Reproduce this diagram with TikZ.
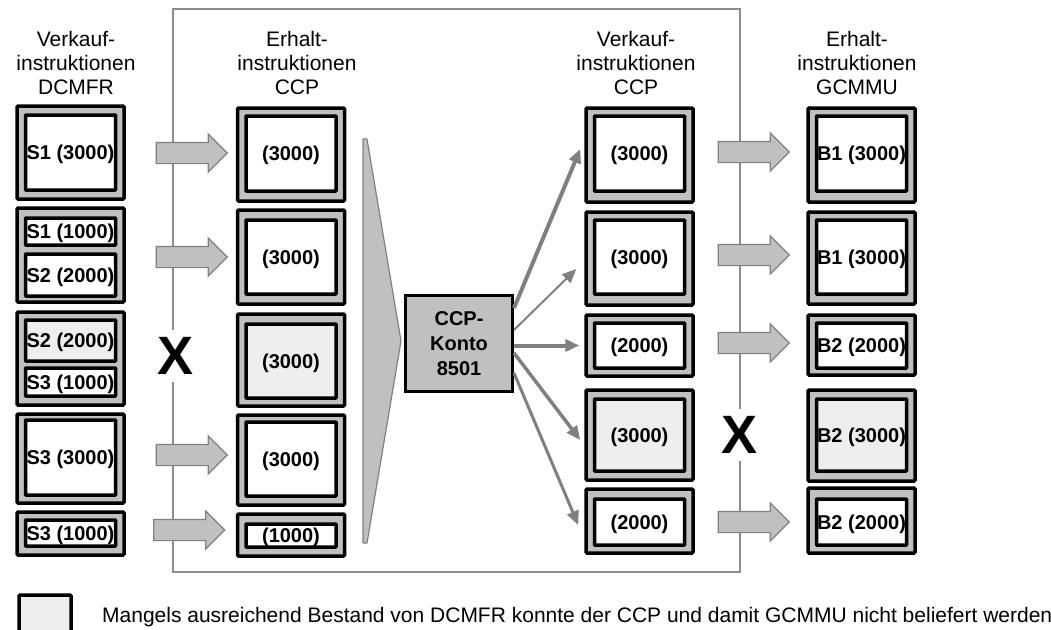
\documentclass[tikz,border=0pt]{standalone}
\usepackage{fontspec}
\setmainfont{Liberation Sans}
\usetikzlibrary{shapes.arrows,arrows.meta,calc}
\definecolor{boxgray}{HTML}{C0C0C0}
\definecolor{lightfill}{HTML}{EEEEEE}
\definecolor{linegray}{HTML}{808080}

\begin{document}
\begin{tikzpicture}[x=1pt,y=-1pt]
    \tikzstyle{outer}=[draw=black,line width=3.5pt,fill=boxgray,rounded corners=1pt,minimum width=107pt,inner sep=0pt]
    \tikzstyle{inner}=[draw=black,line width=3.5pt,fill=white,rounded corners=0.5pt,minimum width=90pt,inner sep=0pt,text height=14.5pt,text depth=0pt,font=\fontsize{20}{22}\selectfont\bfseries]
    \tikzstyle{missing}=[fill=lightfill]
    \tikzstyle{head}=[align=center,font=\fontsize{21}{24}\selectfont]
    \tikzstyle{flow}=[single arrow,draw=linegray,line width=1.2pt,fill=boxgray,minimum height=71pt,inner xsep=0pt,inner ysep=10pt,single arrow head extend=8.5pt,single arrow head indent=0pt]
    \tikzstyle{post}=[draw=linegray,-{Triangle[length=14pt,width=12pt]}]
    \tikzstyle{cross}=[fill=white,inner sep=0pt,minimum height=52pt,font=\fontsize{54}{54}\selectfont\bfseries]

    \useasboundingbox (0,0) rectangle (1051,629);

    % CCP frame
    \draw[draw=linegray!90,line width=1.5pt] (173,9) rectangle (740,572);

    % headers
    \node[head] (h1) at (76,63) {Verkauf-\\instruktionen\\DCMFR};
    \node[head] (h2) at (297,63) {Erhalt-\\instruktionen\\CCP};
    \node[head] (h3) at (636,63) {Verkauf-\\instruktionen\\CCP};
    \node[head] (h4) at (857,63) {Erhalt-\\instruktionen\\GCMMU};

    % Verkaufinstruktionen DCMFR
    \node[outer,minimum height=93pt] (o11) at (70.5,152.5) {};
    \node[inner,minimum height=75pt] (i11) at (70.5,152.5) {S1 (3000)};
    \node[outer,minimum height=94pt] (o12) at (70.5,255) {};
    \node[inner,minimum height=27pt] (i12a) at (70.5,231.5) {S1 (1000)};
    \node[inner,minimum height=42pt] (i12b) at (70.5,275) {S2 (2000)};
    \node[outer,minimum height=93pt] (o13) at (70.5,358.5) {};
    \node[inner,missing,minimum height=41pt] (i13a) at (70.5,340.5) {S2 (2000)};
    \node[inner,minimum height=28pt] (i13b) at (70.5,382) {S3 (1000)};
    \node[outer,minimum height=89pt] (o14) at (70.5,458.5) {};
    \node[inner,minimum height=75pt] (i14) at (70.5,457.5) {S3 (3000)};
    \node[outer,minimum height=43pt] (o15) at (70.5,533.5) {};
    \node[inner,minimum height=26pt] (i15) at (70.5,533) {S3 (1000)};

    % Erhaltinstruktionen CCP
    \node[outer,minimum height=93pt] (o21) at (291,154.5) {};
    \node[inner,minimum height=75pt] (i21) at (291,153.5) {(3000)};
    \node[outer,minimum height=94pt] (o22) at (291,257) {};
    \node[inner,minimum height=74pt] (i22) at (291,257) {(3000)};
    \node[outer,minimum height=92pt] (o23) at (291,360) {};
    \node[inner,missing,minimum height=74pt] (i23) at (291,361) {(3000)};
    \node[outer,minimum height=90pt] (o24) at (291,460) {};
    \node[inner,minimum height=74pt] (i24) at (291,459) {(3000)};
    \node[outer,minimum height=42pt] (o25) at (291,535) {};
    \node[inner,minimum height=23pt] (i25) at (291,535.5) {(1000)};

    % Verkaufinstruktionen CCP
    \node[outer,minimum height=94pt] (o31) at (639.5,155) {};
    \node[inner,minimum height=75pt] (i31) at (639.5,153.5) {(3000)};
    \node[outer,minimum height=93pt] (o32) at (639.5,258.5) {};
    \node[inner,minimum height=74pt] (i32) at (639.5,257) {(3000)};
    \node[outer,minimum height=61pt] (o33) at (639.5,345.5) {};
    \node[inner,minimum height=45pt] (i33) at (639.5,345.5) {(2000)};
    \node[outer,minimum height=90pt] (o34) at (639.5,435) {};
    \node[inner,missing,minimum height=72pt] (i34) at (639.5,435) {(3000)};
    \node[outer,minimum height=64pt] (o35) at (639.5,521) {};
    \node[inner,minimum height=46pt] (i35) at (639.5,522) {(2000)};

    % Erhaltinstruktionen GCMMU
    \node[outer,minimum height=94pt] (o41) at (861.5,155) {};
    \node[inner,minimum height=75pt] (i41) at (861.5,153.5) {B1 (3000)};
    \node[outer,minimum height=92pt] (o42) at (861.5,258) {};
    \node[inner,minimum height=74pt] (i42) at (861.5,257) {B1 (3000)};
    \node[outer,minimum height=60pt] (o43) at (861.5,345) {};
    \node[inner,minimum height=45pt] (i43) at (861.5,345.5) {B2 (2000)};
    \node[outer,minimum height=91pt] (o44) at (861.5,435.5) {};
    \node[inner,missing,minimum height=72pt] (i44) at (861.5,435) {B2 (3000)};
    \node[outer,minimum height=65pt] (o45) at (861.5,520.5) {};
    \node[inner,minimum height=46pt] (i45) at (861.5,522) {B2 (2000)};

    % block arrows
    \node[flow] (f11) at (186.5,153) {};
    \node[flow] (f12) at (186.5,257) {};
    \node[flow] (f14) at (186.5,455) {};
    \node[flow] (f15) at (184,530) {};
    \node[flow] (f31) at (748.5,152) {};
    \node[flow] (f32) at (748.5,255) {};
    \node[flow] (f33) at (748.5,343) {};
    \node[flow] (f35) at (748.5,522) {};

    \node[cross] (x1) at (176,356) {X};
    \node[cross] (x2) at (739,435) {X};

    % funnel into the CCP account
    \draw[draw=linegray,fill=boxgray,line width=1.2pt,line join=round] (363,139) -- (367,139) -- (401,341) -- (367,543) -- (363,543) -- cycle;

    \node[draw=black,line width=3pt,fill=boxgray,minimum width=107pt,minimum height=96pt,align=center,font=\fontsize{20}{25}\selectfont\bfseries] (konto) at (459,343.5) {CCP-\\Konto\\8501};

    \draw[post,line width=4pt] ($(konto.east)+(0,-35.5)$) -- ($(o31.west)+(-4,-6)$);
    \draw[post,line width=2pt] ($(konto.east)+(0,-13.5)$) -- ($(o32.west)+(-8,10.5)$);
    \draw[post,line width=4pt] ($(konto.east)+(0,2)$) -- ($(o33.west)+(-5,0)$);
    \draw[post,line width=3.5pt] ($(konto.east)+(0,9.5)$) -- ($(o34.west)+(-4,5)$);
    \draw[post,line width=3pt] ($(konto.east)+(0,29.5)$) -- ($(o35.west)+(-6,4)$);

    % legend
    \node[draw=black,line width=3.5pt,fill=lightfill,rounded corners=1pt,minimum width=52pt,minimum height=44pt] (leg) at (45,617) {};
    \node[anchor=base west,inner sep=0pt,font=\fontsize{21}{24}\selectfont] (legtext) at (102,622) {Mangels ausreichend Bestand von DCMFR konnte der CCP und damit GCMMU nicht beliefert werden};
\end{tikzpicture}
\end{document}
